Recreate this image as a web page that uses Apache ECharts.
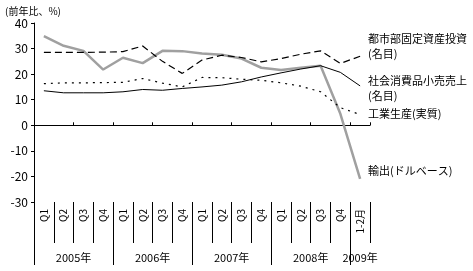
<!DOCTYPE html>
<html>
<head>
<meta charset="utf-8">
<script src="https://cdn.jsdelivr.net/npm/echarts@6/dist/echarts.min.js"></script>
<style>html,body{margin:0;padding:0;background:#fff;}#c{width:473px;height:271px;}</style>
</head>
<body>
<div id="c"></div>
<script>
// ---- data ----
var categories = ['Q1','Q2','Q3','Q4','Q1','Q2','Q3','Q4','Q1','Q2','Q3','Q4','Q1','Q2','Q3','Q4','1-2月'];
var yearLabels = ['2005年','2006年','2007年','2008年','2009年'];
var yearGroupSizes = [4,4,4,4,1];
var seriesNames = ['都市部固定資産投資(名目)','社会消費品小売売上(名目)','工業生産(実質)','輸出(ドルベース)'];
var fai     = [28.5, 28.5, 28.5, 28.6, 28.8, 31.0, 25.0, 20.3, 25.5, 27.4, 26.5, 24.8, 26.1, 27.8, 29.1, 24.2, 27.0];
var retail  = [13.5, 12.7, 12.7, 12.7, 13.1, 14.0, 13.7, 14.4, 15.0, 15.7, 17.0, 18.9, 20.5, 22.0, 23.3, 20.7, 15.4];
var ip      = [16.3, 16.6, 16.6, 16.7, 16.8, 18.3, 16.5, 15.0, 18.7, 18.6, 18.0, 17.6, 16.6, 15.3, 13.1, 6.9, 4.2];
var exportsUsd = [34.9, 31.1, 29.1, 21.8, 26.4, 24.3, 29.1, 29.0, 28.1, 27.6, 26.1, 22.5, 21.6, 22.5, 23.3, 4.5, -21.0];
var yTicks = {min: -30, max: 40, interval: 10};

// derived positions for year groups
var yearBounds = [0], yearCenters = [], acc = 0;
yearGroupSizes.forEach(function (s) { yearCenters.push(acc + s / 2); acc += s; yearBounds.push(acc); });
var longTicks = yearBounds.slice(0, yearBounds.length - 1);

var font = '"Noto Sans CJK JP", "Noto Sans", sans-serif';
var chart = echarts.init(document.getElementById('c'));
chart.setOption({
  animation: false,
  backgroundColor: '#fff',
  grid: {left: 34, right: 103, top: 23, bottom: 69, containLabel: false},
  xAxis: [
    {
      type: 'category', data: categories, boundaryGap: true,
      axisLine: {onZero: true, lineStyle: {color: '#000', width: 1}},
      axisTick: {show: true, inside: true, length: 3, lineStyle: {color: '#000'}},
      axisLabel: {show: false}, splitLine: {show: false}
    },
    {
      type: 'category', data: categories, boundaryGap: true, position: 'bottom',
      axisLine: {show: false, onZero: false},
      axisTick: {show: true, length: 41, lineStyle: {color: '#000'}},
      axisLabel: {show: true, rotate: 90, fontSize: 10, color: '#000', margin: 7, fontFamily: font, interval: 0},
      splitLine: {show: false}
    },
    {
      type: 'value', min: 0, max: categories.length, position: 'bottom',
      axisLine: {show: false, onZero: false},
      axisTick: {show: true, length: 63, customValues: longTicks, lineStyle: {color: '#000'}},
      axisLabel: {
        show: true, customValues: yearCenters, fontSize: 11, color: '#000', margin: 50, fontFamily: font,
        formatter: function (v) { var i = yearCenters.indexOf(v); return i >= 0 ? yearLabels[i] : ''; }
      },
      splitLine: {show: false}
    }
  ],
  yAxis: {
    type: 'value', min: yTicks.min, max: yTicks.max, interval: yTicks.interval,
    axisLine: {show: true, lineStyle: {color: '#000'}},
    axisTick: {show: true, length: 3, lineStyle: {color: '#000'}},
    axisLabel: {fontSize: 12, color: '#000', margin: 6, fontFamily: font},
    splitLine: {show: false}
  },
  series: [
    {name: seriesNames[3], type: 'line', xAxisIndex: 0, data: exportsUsd, symbol: 'none',
     lineStyle: {color: '#a0a0a0', width: 2.5}, z: 2},
    {name: seriesNames[0], type: 'line', xAxisIndex: 0, data: fai, symbol: 'none',
     lineStyle: {color: '#000', width: 1.2, type: [7, 4]}, z: 3},
    {name: seriesNames[1], type: 'line', xAxisIndex: 0, data: retail, symbol: 'none',
     lineStyle: {color: '#000', width: 1}, z: 3},
    {name: seriesNames[2], type: 'line', xAxisIndex: 0, data: ip, symbol: 'none',
     lineStyle: {color: '#000', width: 1.2, type: [2, 5]}, z: 3}
  ],
  graphic: [
    {type: 'text', left: 5, top: 6, style: {text: '(前年比、%)', fontSize: 10, fill: '#000', fontFamily: font}},
    {type: 'text', left: 368, top: 31, style: {text: '都市部固定資産投資\n(名目)', fontSize: 11, lineHeight: 15, fill: '#000', fontFamily: font}},
    {type: 'text', left: 368, top: 73, style: {text: '社会消費品小売売上\n(名目)', fontSize: 11, lineHeight: 15, fill: '#000', fontFamily: font}},
    {type: 'text', left: 368, top: 108, style: {text: '工業生産(実質)', fontSize: 11, fill: '#000', fontFamily: font}},
    {type: 'text', left: 368, top: 165, style: {text: '輸出(ドルベース)', fontSize: 11, fill: '#000', fontFamily: font}}
  ]
});
</script>
</body>
</html>
